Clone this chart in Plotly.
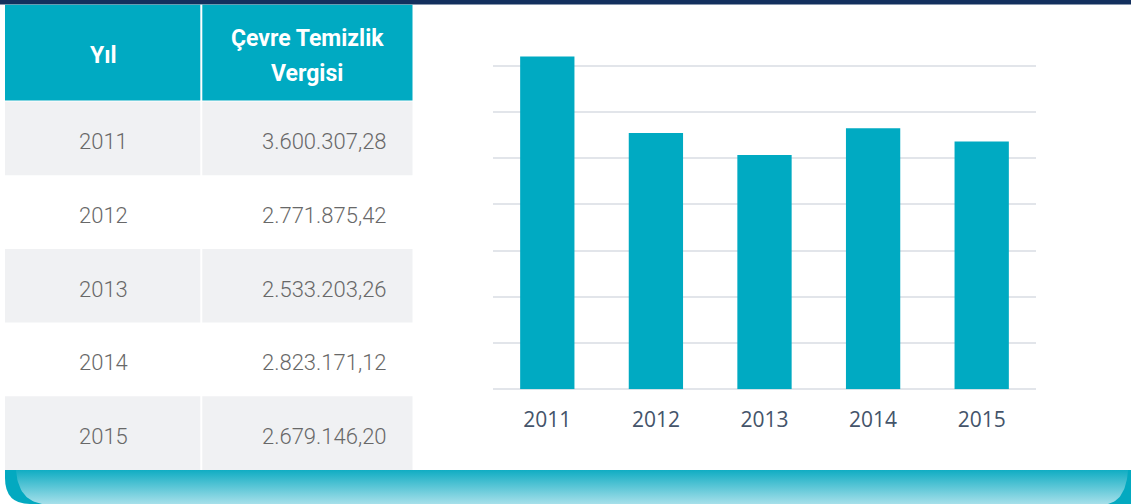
import numpy as np
import plotly.graph_objects as go

# Çevre Temizlik Vergisi by year (TL)
years = ["2011", "2012", "2013", "2014", "2015"]
tax_values = [3600307.28, 2771875.42, 2533203.26, 2823171.12, 2679146.20]
header_labels = ["Yıl", "Çevre Temizlik", "Vergisi"]

W, H = 1131, 504
TEAL = "#00aac2"
NAVY = "#13305e"
ROW_GRAY = "#f0f1f3"
GRID = "#e2e5ea"


def tr_format(v):
    """3600307.28 -> '3.600.307,28'"""
    s = f"{v:,.2f}"
    return s.replace(",", "#").replace(".", ",").replace("#", ".")


# bar panel geometry (pixels)
plot_left, plot_right = 493, 1036
base_px, grid_top_px, grid_top_val = 389.3, 65.7, 3.5e6
y_max = 3.8e6
top_px = base_px - y_max * (base_px - grid_top_px) / grid_top_val

fig = go.Figure()

fig.add_trace(go.Bar(
    x=years, y=tax_values, width=0.5,
    marker=dict(color=TEAL, line=dict(width=0)),
    hoverinfo="skip", xaxis="x", yaxis="y",
))

# bottom ribbon with vertical gradient
def qbez(p0, p1, p2, n=24):
    t = np.linspace(0, 1, n)[:, None]
    p0, p1, p2 = map(np.array, (p0, p1, p2))
    return (1 - t) ** 2 * p0 + 2 * (1 - t) * t * p1 + t ** 2 * p2

left_edge = qbez((16, 470), (18, 500), (42, 504))
right_edge = qbez((1108, 504), (1126, 500), (1128, 470))
ribbon = np.vstack([left_edge, right_edge, [[16, 470]]])
fig.add_trace(go.Scatter(
    x=ribbon[:, 0], y=ribbon[:, 1], mode="lines", fill="toself",
    line=dict(width=0),
    fillgradient=dict(type="vertical", start=470, stop=504,
                      colorscale=[[0, "#10adc3"], [1, "#a6e0ea"]]),
    hoverinfo="skip", xaxis="x2", yaxis="y2", showlegend=False,
))

shapes = []
# top navy rule
shapes.append(dict(type="rect", xref="x2", yref="y2", x0=0, x1=W, y0=0, y1=4.5,
                   fillcolor=NAVY, line=dict(width=0), layer="below"))
# ribbon rim
shapes.append(dict(type="path", xref="x2", yref="y2",
                   path="M 5 470 L 1131 470 L 1131 504 L 30 504 Q 5 504 5 478 Z",
                   fillcolor="#03a9c0", line=dict(width=0), layer="below"))

# table
tbl_left, tbl_mid, tbl_right = 5, 201.3, 412.5
head_top, head_bot = 4.7, 100.5
rows_top, rows_bot = 101.5, 470
row_h = (rows_bot - rows_top) / len(years)

shapes.append(dict(type="rect", xref="x2", yref="y2", x0=tbl_left, x1=tbl_right,
                   y0=head_top, y1=head_bot, fillcolor=TEAL, line=dict(width=0),
                   layer="below"))
for i, _ in enumerate(years):
    if i % 2 == 0:
        shapes.append(dict(type="rect", xref="x2", yref="y2", x0=tbl_left, x1=tbl_right,
                           y0=rows_top + i * row_h, y1=rows_top + (i + 1) * row_h,
                           fillcolor=ROW_GRAY, line=dict(width=0), layer="below"))
shapes.append(dict(type="line", xref="x2", yref="y2", x0=tbl_mid, x1=tbl_mid,
                   y0=head_top, y1=rows_bot, line=dict(color="white", width=2),
                   layer="below"))

annotations = []
head_font = dict(family="Roboto, Liberation Sans, sans-serif", size=23,
                 color="white", weight="bold")
col1_c = (tbl_left + tbl_mid) / 2
col2_c = (tbl_mid + tbl_right) / 2
annotations.append(dict(xref="x2", yref="y2", x=col1_c, y=55, text=header_labels[0],
                        showarrow=False, font=head_font, xanchor="center", yanchor="middle"))
annotations.append(dict(xref="x2", yref="y2", x=col2_c + 1, y=38.5, text=header_labels[1],
                        showarrow=False, font=head_font, xanchor="center", yanchor="middle"))
annotations.append(dict(xref="x2", yref="y2", x=col2_c, y=73.5, text=header_labels[2],
                        showarrow=False, font=head_font, xanchor="center", yanchor="middle"))

cell_font = dict(family="Roboto, sans-serif", size=22, weight=300, color="#686868")
for i, (yr, v) in enumerate(zip(years, tax_values)):
    yc = rows_top + (i + 0.5) * row_h + 3.5
    annotations.append(dict(xref="x2", yref="y2", x=col1_c, y=yc, text=yr,
                            showarrow=False, font=cell_font, xanchor="center",
                            yanchor="middle"))
    annotations.append(dict(xref="x2", yref="y2", x=389, y=yc, text=tr_format(v),
                            showarrow=False, font=cell_font, xanchor="right",
                            yanchor="middle"))

fig.update_layout(
    width=W, height=H, autosize=False,
    margin=dict(l=0, r=0, t=0, b=0, pad=0),
    paper_bgcolor="white", plot_bgcolor="rgba(0,0,0,0)",
    showlegend=False, bargap=0.5,
    shapes=shapes, annotations=annotations,
    xaxis=dict(domain=[plot_left / W, plot_right / W], type="category",
               range=[-0.5, len(years) - 0.5], showgrid=False, zeroline=False,
               showline=False, ticks="", ticklabelstandoff=16,
               tickfont=dict(family="Open Sans, sans-serif", size=21, color="#44546a"),
               anchor="y", fixedrange=True),
    yaxis=dict(domain=[(H - base_px) / H, (H - top_px) / H], range=[0, y_max],
               tick0=0, dtick=5e5, showgrid=True, gridcolor=GRID, gridwidth=2,
               zeroline=True, zerolinecolor=GRID, zerolinewidth=2,
               showticklabels=False, ticks="", showline=False,
               anchor="x", fixedrange=True),
    xaxis2=dict(domain=[0, 1], range=[0, W], visible=False, anchor="y2",
                fixedrange=True),
    yaxis2=dict(domain=[0, 1], range=[H, 0], visible=False, anchor="x2",
                fixedrange=True),
)

fig.write_html("out.html")
